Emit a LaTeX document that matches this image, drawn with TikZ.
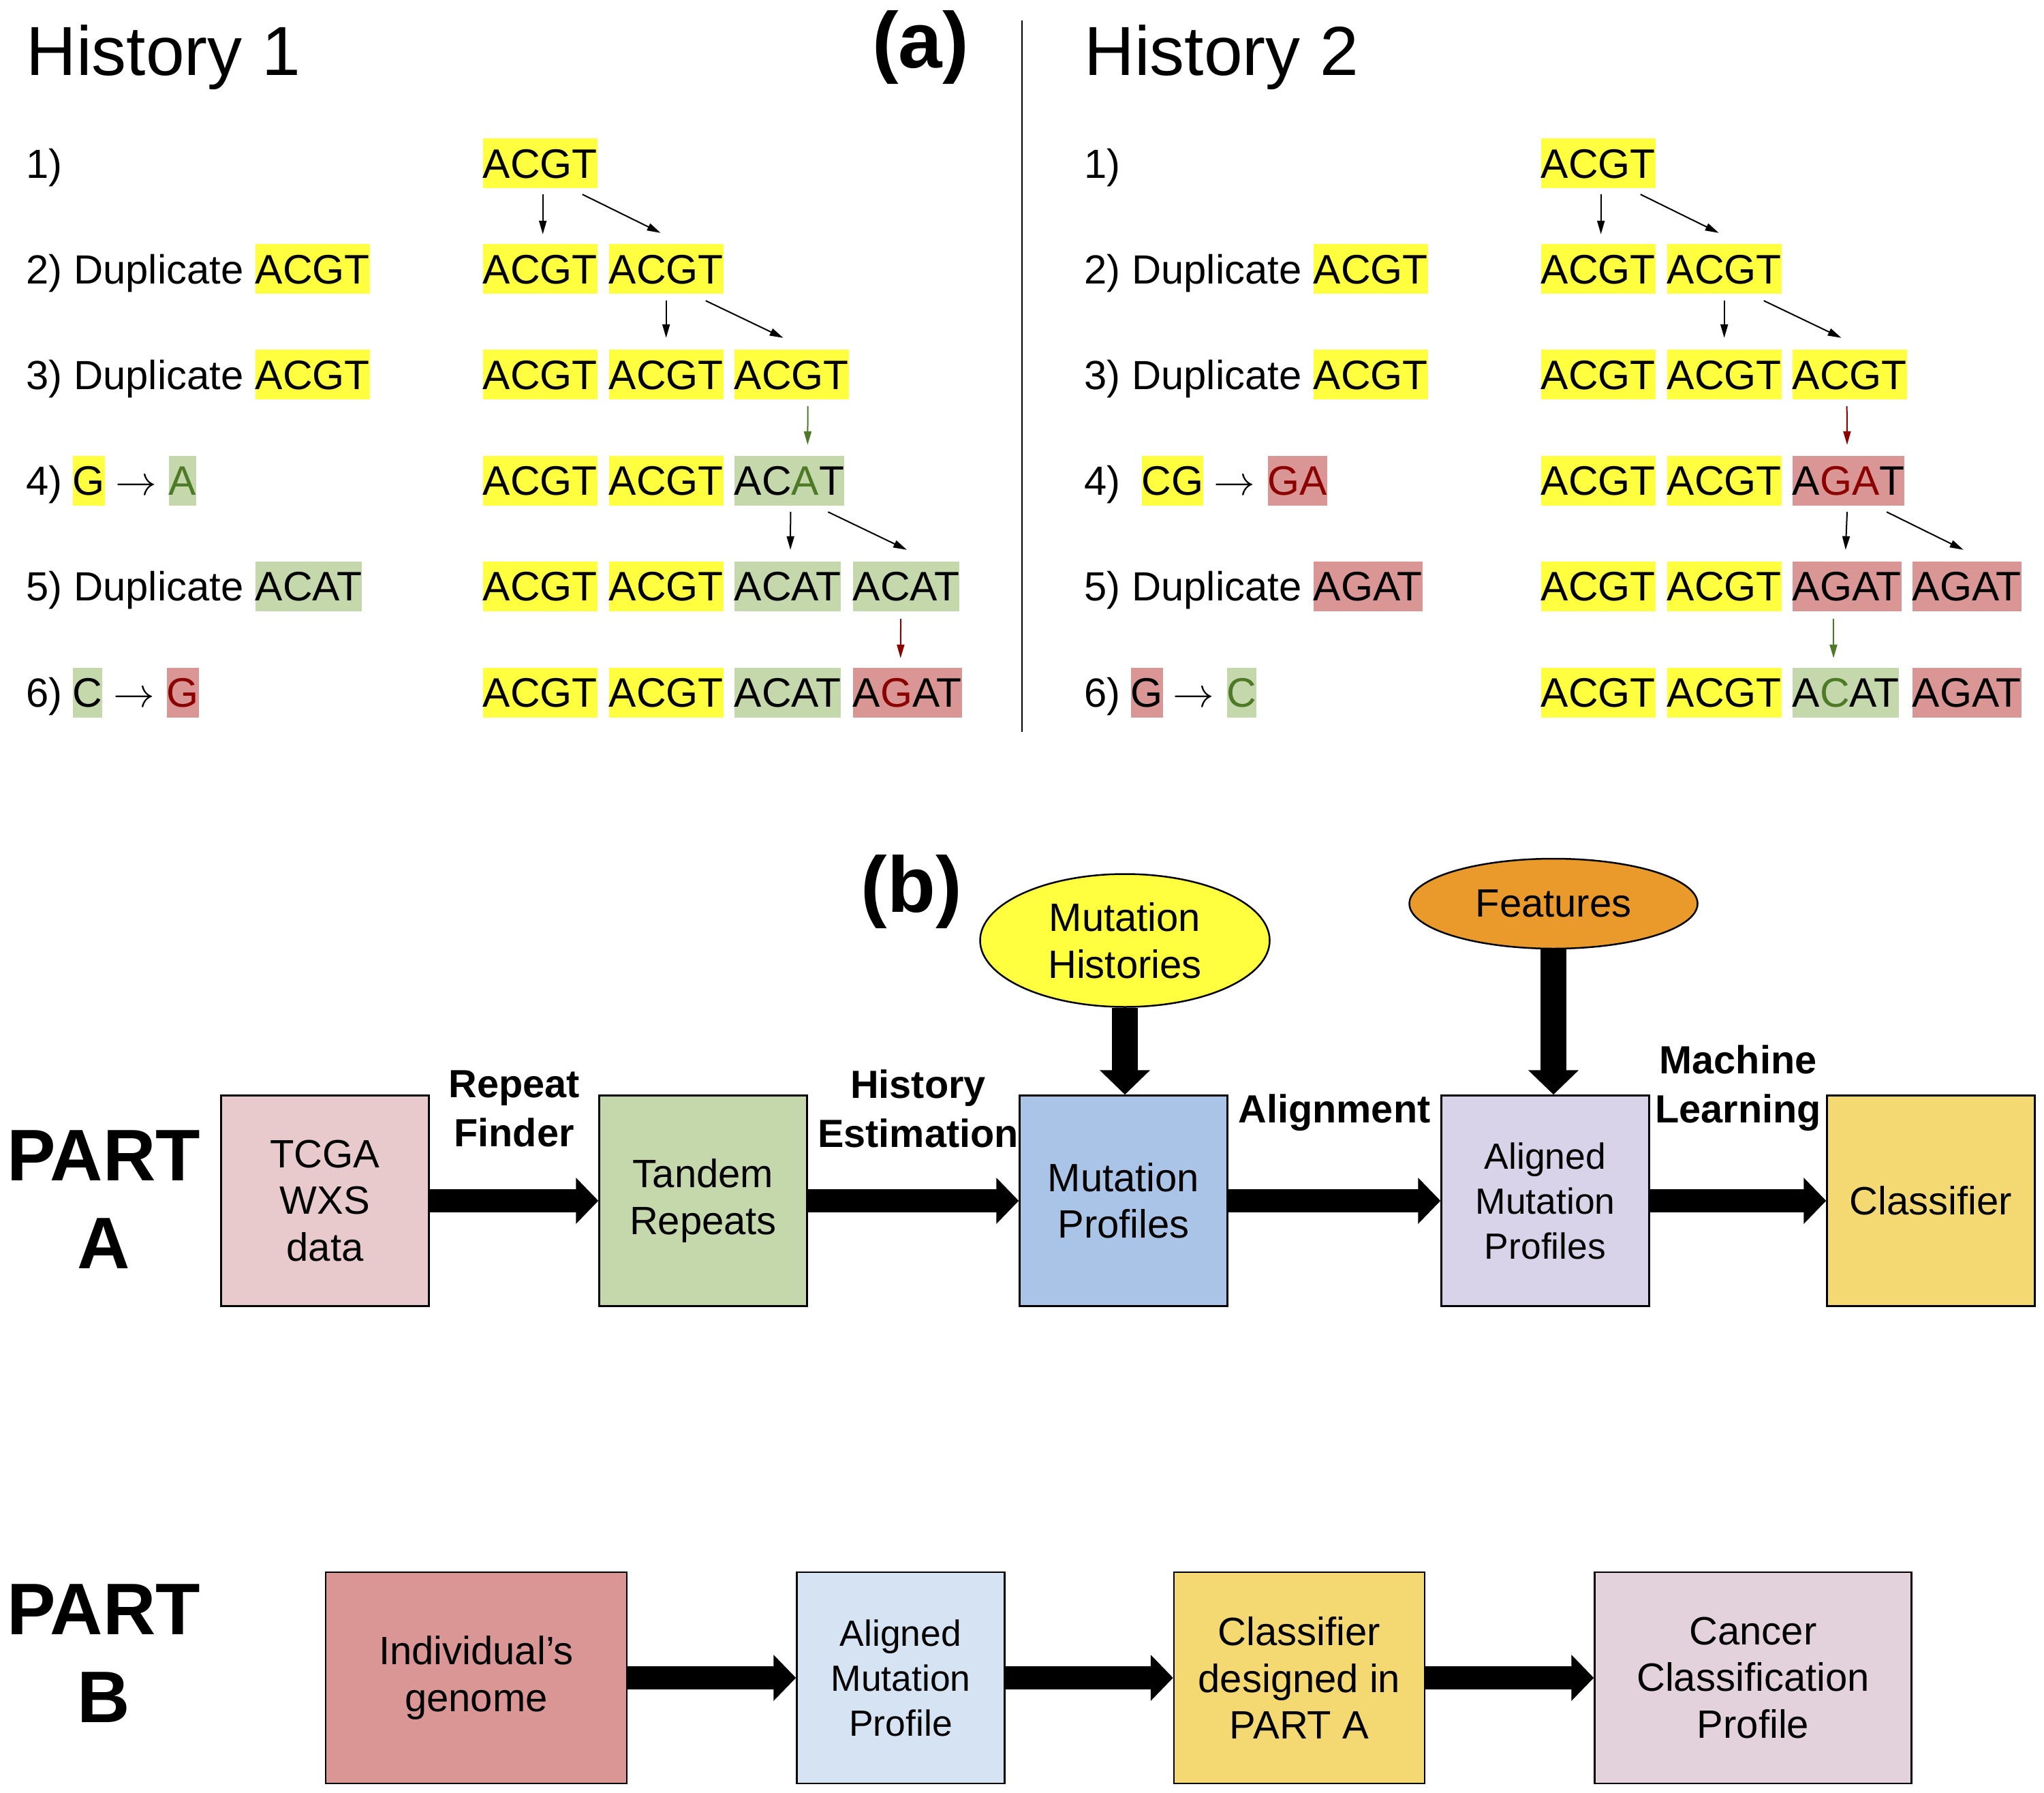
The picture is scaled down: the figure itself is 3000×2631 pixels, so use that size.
\documentclass[tikz,border=0pt]{standalone}
\usepackage{fontspec}
\setmainfont{Liberation Sans}
\usetikzlibrary{arrows.meta,shapes.geometric,calc}

\definecolor{hlyellow}{HTML}{FFFF40}
\definecolor{hlgreen}{HTML}{C4D8AC}
\definecolor{hlpink}{HTML}{D99694}
\definecolor{txtgreen}{HTML}{4E7A27}
\definecolor{txtred}{HTML}{8B0000}
\definecolor{tcgafill}{HTML}{E8CACC}
\definecolor{mutfill}{HTML}{A9C4E7}
\definecolor{alignfill}{HTML}{D8D3E8}
\definecolor{classfill}{HTML}{F4D872}
\definecolor{featfill}{HTML}{E99A2A}
\definecolor{alignBfill}{HTML}{D6E3F3}
\definecolor{cancerfill}{HTML}{E3D1DC}

\tikzset{
  seq/.style={anchor=west, inner sep=0pt, minimum height=7.3mm, text height=12.3pt, text depth=0pt, font=\fontsize{17.2pt}{20pt}\selectfont},
  lbl/.style={seq, font=\fontsize{17pt}{20pt}\selectfont},
  yellowbox/.style={seq, fill=hlyellow},
  greenbox/.style={seq, fill=hlgreen},
  pinkbox/.style={seq, fill=hlpink},
  mut/.style={line width=0.2mm, -{Triangle[length=2mm,width=1.1mm]}},
  box/.style={draw, line width=0.25mm, minimum width=30.5mm, minimum height=30.9mm, inner sep=0pt, align=center, font=\fontsize{16.5pt}{19.4pt}\selectfont},
  small/.style={font=\fontsize{15.2pt}{18.8pt}\selectfont},
  blob/.style={ellipse, draw, line width=0.25mm, inner sep=0pt, align=center, font=\fontsize{16.5pt}{19.7pt}\selectfont},
  bigarrow/.style={line width=3.4mm, -{Triangle[length=3.3mm,width=6.6mm]}},
  downarrow/.style={line width=3.8mm, -{Triangle[length=3.6mm,width=7.2mm]}},
  steplbl/.style={inner sep=0pt, align=center, font=\bfseries\fontsize{16.4pt}{20.5pt}\selectfont},
  title/.style={anchor=base west, inner sep=0pt, font=\fontsize{29pt}{31pt}\selectfont},
  tag/.style={inner sep=0pt, font=\bfseries\fontsize{33pt}{36pt}\selectfont},
  part/.style={inner sep=0pt, align=center, font=\bfseries\fontsize{30.5pt}{36.7pt}\selectfont}
}

\begin{document}
\begin{tikzpicture}[x=0.1mm, y=-0.1mm]
\useasboundingbox (0,0) rectangle (3000,2631);

\node [title] (hist1) at (38,111) {History 1};
\node [tag] (taga) at (1351,70) {(a)};
\node [title] (hist2) at (1591,111) {History 2};
\draw [line width=0.2mm] (1500,30) -- (1500,1074);

\node [lbl] (h1l1) at (38,240) {1)};
\node [yellowbox] (h1r1c1) at (708,240) {ACGT};

\node [lbl] (h1l2) at (38,395) {2) Duplicate};
\node [yellowbox] (h1d2) at (374,395) {ACGT};
\node [yellowbox] (h1r2c1) at (708,395) {ACGT};
\node [yellowbox] (h1r2c2) at (893,395) {ACGT};

\node [lbl] (h1l3) at (38,550) {3) Duplicate};
\node [yellowbox] (h1d3) at (374,550) {ACGT};
\node [yellowbox] (h1r3c1) at (708,550) {ACGT};
\node [yellowbox] (h1r3c2) at (893,550) {ACGT};
\node [yellowbox] (h1r3c3) at (1077,550) {ACGT};

\node [lbl] (h1l4) at (38,705) {4)};
\node [yellowbox] (h1m4a) at (106,705) {G};
\node [seq, anchor=center] (h1m4b) at (200,705) {$\rightarrow$};
\node [greenbox] (h1m4c) at (247,705) {\color{txtgreen}A};
\node [yellowbox] (h1r4c1) at (708,705) {ACGT};
\node [yellowbox] (h1r4c2) at (893,705) {ACGT};
\node [greenbox] (h1r4c3) at (1077,705) {AC{\color{txtgreen}A}T};

\node [lbl] (h1l5) at (38,860) {5) Duplicate};
\node [greenbox] (h1d5) at (374,860) {ACAT};
\node [yellowbox] (h1r5c1) at (708,860) {ACGT};
\node [yellowbox] (h1r5c2) at (893,860) {ACGT};
\node [greenbox] (h1r5c3) at (1077,860) {ACAT};
\node [greenbox] (h1r5c4) at (1251,860) {ACAT};

\node [lbl] (h1l6) at (38,1016) {6)};
\node [greenbox] (h1m6a) at (106,1016) {C};
\node [seq, anchor=center] (h1m6b) at (197,1016) {$\rightarrow$};
\node [pinkbox] (h1m6c) at (244,1016) {\color{txtred}G};
\node [yellowbox] (h1r6c1) at (708,1016) {ACGT};
\node [yellowbox] (h1r6c2) at (893,1016) {ACGT};
\node [greenbox] (h1r6c3) at (1077,1016) {ACAT};
\node [pinkbox] (h1r6c4) at (1251,1016) {A{\color{txtred}G}AT};

\draw [mut] ($(h1r1c1.south)+(4,8)$) -- ($(h1r2c1.north)+(4,-14)$);
\draw [mut] ($(h1r1c1.south)+(62,8)$) -- ($(h1r2c2.north)+(-8,-16)$);
\draw [mut] ($(h1r2c2.south)+(0,9)$) -- ($(h1r3c2.north)+(0,-17)$);
\draw [mut] ($(h1r2c2.south)+(58,9)$) -- ($(h1r3c3.north)+(-12,-17)$);
\draw [mut, txtgreen] ($(h1r3c3.south)+(24,9)$) -- ($(h1r4c3.north)+(27,-15)$);
\draw [mut] ($(h1r4c3.south)+(2,9)$) -- ($(h1r5c3.north)+(4,-16)$);
\draw [mut] ($(h1r4c3.south)+(57,9)$) -- ($(h1r5c4.north)+(1,-16)$);
\draw [mut, txtred] ($(h1r5c4.south)+(-8,11)$) -- ($(h1r6c4.north)+(-10,-13)$);

\node [lbl] (h2l1) at (1591,240) {1)};
\node [yellowbox] (h2r1c1) at (2261,240) {ACGT};

\node [lbl] (h2l2) at (1591,395) {2) Duplicate};
\node [yellowbox] (h2d2) at (1927,395) {ACGT};
\node [yellowbox] (h2r2c1) at (2261,395) {ACGT};
\node [yellowbox] (h2r2c2) at (2446,395) {ACGT};

\node [lbl] (h2l3) at (1591,550) {3) Duplicate};
\node [yellowbox] (h2d3) at (1927,550) {ACGT};
\node [yellowbox] (h2r3c1) at (2261,550) {ACGT};
\node [yellowbox] (h2r3c2) at (2446,550) {ACGT};
\node [yellowbox] (h2r3c3) at (2630,550) {ACGT};

\node [lbl] (h2l4) at (1591,705) {4)};
\node [yellowbox] (h2m4a) at (1675,705) {CG};
\node [seq, anchor=center] (h2m4b) at (1812,705) {$\rightarrow$};
\node [pinkbox] (h2m4c) at (1860,705) {\color{txtred}GA};
\node [yellowbox] (h2r4c1) at (2261,705) {ACGT};
\node [yellowbox] (h2r4c2) at (2446,705) {ACGT};
\node [pinkbox] (h2r4c3) at (2630,705) {A{\color{txtred}GA}T};

\node [lbl] (h2l5) at (1591,860) {5) Duplicate};
\node [pinkbox] (h2d5) at (1927,860) {AGAT};
\node [yellowbox] (h2r5c1) at (2261,860) {ACGT};
\node [yellowbox] (h2r5c2) at (2446,860) {ACGT};
\node [pinkbox] (h2r5c3) at (2630,860) {AGAT};
\node [pinkbox] (h2r5c4) at (2806,860) {AGAT};

\node [lbl] (h2l6) at (1591,1016) {6)};
\node [pinkbox] (h2m6a) at (1659,1016) {G};
\node [seq, anchor=center] (h2m6b) at (1752,1016) {$\rightarrow$};
\node [greenbox] (h2m6c) at (1800,1016) {\color{txtgreen}C};
\node [yellowbox] (h2r6c1) at (2261,1016) {ACGT};
\node [yellowbox] (h2r6c2) at (2446,1016) {ACGT};
\node [greenbox] (h2r6c3) at (2630,1016) {A{\color{txtgreen}C}AT};
\node [pinkbox] (h2r6c4) at (2806,1016) {AGAT};

\draw [mut] ($(h2r1c1.south)+(4,8)$) -- ($(h2r2c1.north)+(4,-14)$);
\draw [mut] ($(h2r1c1.south)+(62,8)$) -- ($(h2r2c2.north)+(-8,-16)$);
\draw [mut] ($(h2r2c2.south)+(0,9)$) -- ($(h2r3c2.north)+(0,-17)$);
\draw [mut] ($(h2r2c2.south)+(58,9)$) -- ($(h2r3c3.north)+(-12,-17)$);
\draw [mut, txtred] ($(h2r3c3.south)+(-4,9)$) -- ($(h2r4c3.north)+(-2,-15)$);
\draw [mut] ($(h2r4c3.south)+(-2,9)$) -- ($(h2r5c3.north)+(-2,-16)$);
\draw [mut] ($(h2r4c3.south)+(56,9)$) -- ($(h2r5c4.north)+(-5,-16)$);
\draw [mut, txtgreen] ($(h2r5c3.south)+(-20,11)$) -- ($(h2r6c3.north)+(-18,-13)$);

\node [tag] (tagb) at (1338,1309) {(b)};
\node [part] (partA) at (152,1760) {PART\\A};
\node [box, fill=tcgafill] (tcga) at (477,1762) {TCGA\\WXS\\data};
\node [box, fill=hlgreen] (tandem) at (1032,1762) {Tandem\\Repeats};
\node [box, fill=mutfill] (mutprof) at (1649,1762) {Mutation\\Profiles};
\node [box, small, fill=alignfill] (aligned) at (2268,1762) {Aligned\\Mutation\\Profiles};
\node [box, fill=classfill] (classifier) at (2834,1762) {Classifier};
\node [blob, fill=hlyellow, minimum width=42.5mm, minimum height=19.5mm] (histories) at (1651,1380) {Mutation\\Histories};
\node [blob, fill=featfill, minimum width=42.3mm, minimum height=13.2mm] (features) at (2280,1326) {Features};

\draw [bigarrow] (tcga) -- node [steplbl, yshift=13.5mm] (finder) {Repeat\\Finder} (tandem);
\draw [bigarrow] (tandem) -- node [steplbl, yshift=13.5mm, xshift=0.7mm] (estimation) {History\\Estimation} (mutprof);
\draw [bigarrow] (mutprof) -- node [steplbl, yshift=12.9mm] (alignment) {Alignment} (aligned);
\draw [bigarrow] (aligned) -- node [steplbl, yshift=16.5mm] (learning) {Machine\\Learning} (classifier);
\draw [downarrow] (histories.south) -- (histories.south |- mutprof.north);
\draw [downarrow] (features.south) -- (features.south |- aligned.north);

\node [part] (partB) at (152,2426) {PART\\B};
\node [box, fill=hlpink, minimum width=44.2mm, minimum height=31mm] (genome) at (699,2462) {Individual’s\\genome};
\node [box, small, fill=alignBfill, minimum height=31mm] (alignedB) at (1322,2462) {Aligned\\Mutation\\Profile};
\node [box, fill=classfill, minimum width=36.8mm, minimum height=31mm] (classB) at (1907,2462) {Classifier\\designed in\\PART A};
\node [box, fill=cancerfill, minimum width=46.5mm, minimum height=31mm] (cancer) at (2573,2462) {Cancer\\Classification\\Profile};

\draw [bigarrow] (genome) -- (alignedB);
\draw [bigarrow] (alignedB) -- (classB);
\draw [bigarrow] (classB) -- (cancer);
\end{tikzpicture}
\end{document}
